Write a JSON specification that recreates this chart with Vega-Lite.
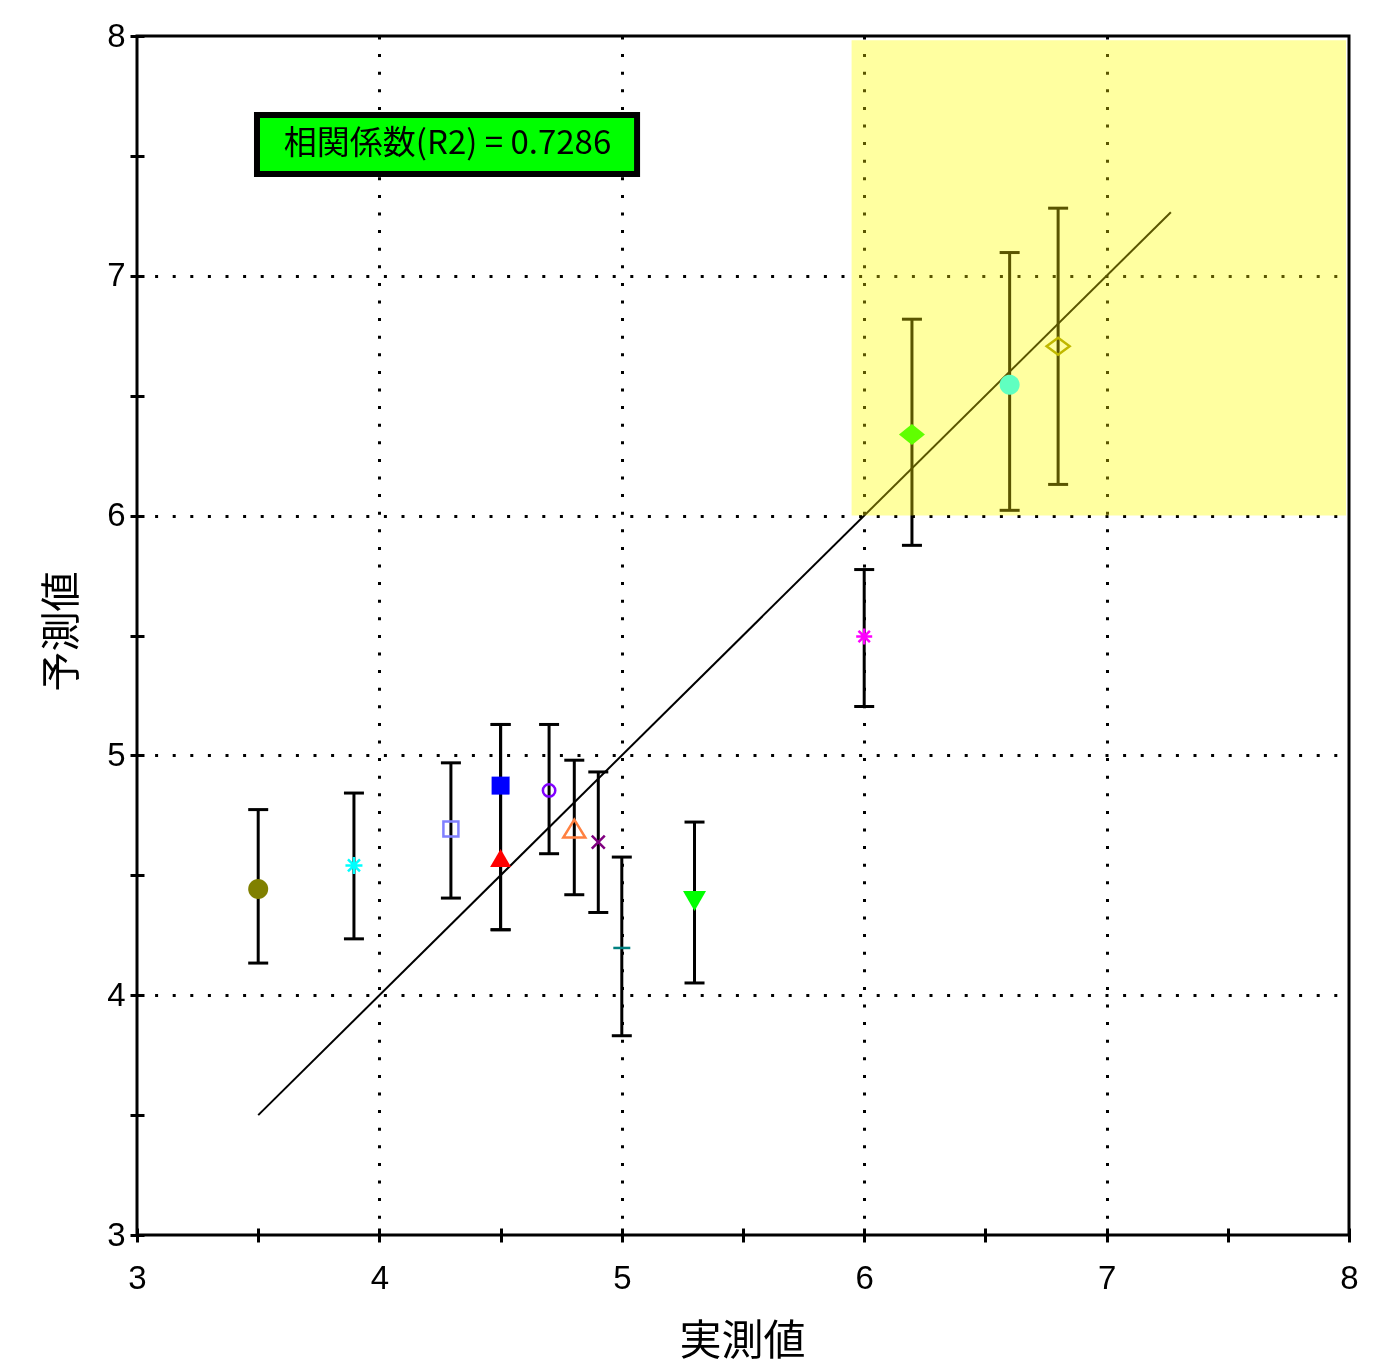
{
  "$schema": "https://vega.github.io/schema/vega-lite/v6.json",
  "width": 1212,
  "height": 1199,
  "autosize": {"type": "none"},
  "padding": {"left": 137, "top": 36, "right": 33, "bottom": 133},
  "background": "white",
  "config": {"view": {"stroke": "#000", "strokeWidth": 3}},
  "datasets": {
    "region": [{"x1": 5.948, "x2": 7.988, "y1": 6.0, "y2": 7.982}],
    "box": [{"x1": 3.495, "x2": 5.063, "y1": 7.425, "y2": 7.671, "tx": 4.281, "ty": 7.548, "label": "相関係数(R2) = 0.7286"}],
    "fit": [{"x": 3.5, "y": 3.5}, {"x": 7.265, "y": 7.265}],
    "pts": [
      {"name": "s1", "x": 3.5, "y": 4.443, "lo": 4.134, "hi": 4.774},
      {"name": "s2", "x": 3.895, "y": 4.541, "lo": 4.235, "hi": 4.843},
      {"name": "s3", "x": 4.295, "y": 4.693, "lo": 4.405, "hi": 4.969},
      {"name": "s4", "x": 4.5, "y": 4.874, "lo": 4.273, "hi": 5.129},
      {"name": "s5", "x": 4.5, "y": 4.572, "lo": 4.273, "hi": 5.129},
      {"name": "s6", "x": 4.7, "y": 4.854, "lo": 4.59, "hi": 5.129},
      {"name": "s7", "x": 4.804, "y": 4.695, "lo": 4.419, "hi": 4.98},
      {"name": "s8", "x": 4.903, "y": 4.638, "lo": 4.345, "hi": 4.931},
      {"name": "s9", "x": 5.0, "y": 4.197, "lo": 3.831, "hi": 4.576},
      {"name": "s10", "x": 5.3, "y": 4.393, "lo": 4.051, "hi": 4.722},
      {"name": "s11", "x": 6.0, "y": 5.496, "lo": 5.204, "hi": 5.775},
      {"name": "s12", "x": 6.197, "y": 6.338, "lo": 5.876, "hi": 6.819},
      {"name": "s13", "x": 6.6, "y": 6.546, "lo": 6.022, "hi": 7.097},
      {"name": "s14", "x": 6.8, "y": 6.706, "lo": 6.13, "hi": 7.282}
    ]
  },
  "layer": [
    {
      "data": {"name": "region"},
      "mark": {"type": "rect", "color": "#FFFFA0", "blend": "multiply"},
      "encoding": {
        "x": {
          "field": "x1", "type": "quantitative", "title": "実測値",
          "scale": {"domain": [3, 8], "nice": false, "zero": false},
          "axis": {
            "values": [3, 3.5, 4, 4.5, 5, 5.5, 6, 6.5, 7, 7.5, 8],
            "domain": false, "offset": -7, "tickSize": 14, "tickWidth": 3, "tickColor": "#000",
            "grid": true, "gridColor": "#000", "gridWidth": 3, "gridDash": [3, 14.6],
            "gridOpacity": {"condition": {"test": "datum.value % 1 !== 0 || datum.value === 3 || datum.value === 8", "value": 0}, "value": 1},
            "labelExpr": "datum.value % 1 === 0 ? format(datum.value, 'd') : ''",
            "labelFont": "Liberation Sans", "labelFontSize": 33, "labelColor": "#000", "labelPadding": 20,
            "labelFlush": false, "labelOverlap": false,
            "titleFont": "Noto Sans CJK JP", "titleFontSize": 42, "titleFontWeight": "normal", "titleColor": "#000",
            "titleX": 605, "titleY": 113, "titleBaseline": "middle", "titleAlign": "center"
          }
        },
        "x2": {"field": "x2"},
        "y": {
          "field": "y1", "type": "quantitative", "title": "予測値",
          "scale": {"domain": [3, 8], "nice": false, "zero": false},
          "axis": {
            "values": [3, 3.5, 4, 4.5, 5, 5.5, 6, 6.5, 7, 7.5, 8],
            "domain": false, "offset": -7, "tickSize": 14, "tickWidth": 3, "tickColor": "#000",
            "grid": true, "gridColor": "#000", "gridWidth": 3, "gridDash": [3, 14.6],
            "gridOpacity": {"condition": {"test": "datum.value % 1 !== 0 || datum.value === 3 || datum.value === 8", "value": 0}, "value": 1},
            "labelExpr": "datum.value % 1 === 0 ? format(datum.value, 'd') : ''",
            "labelFont": "Liberation Sans", "labelFontSize": 33, "labelColor": "#000", "labelPadding": 5,
            "labelFlush": false, "labelOverlap": false,
            "titleFont": "Noto Sans CJK JP", "titleFontSize": 40, "titleFontWeight": "normal", "titleColor": "#000",
            "titleX": -82, "titleY": 595, "titleBaseline": "middle", "titleAlign": "center", "titleAngle": -90
          }
        },
        "y2": {"field": "y2"}
      }
    },
    {
      "data": {"name": "fit"},
      "mark": {"type": "line", "color": "#000", "strokeWidth": 2},
      "encoding": {
        "x": {"field": "x", "type": "quantitative", "title": "実測値", "scale": {"domain": [3, 8], "nice": false, "zero": false}},
        "y": {"field": "y", "type": "quantitative", "title": "予測値", "scale": {"domain": [3, 8], "nice": false, "zero": false}}
      }
    },
    {
      "data": {"name": "pts"},
      "mark": {"type": "rule", "color": "#000", "strokeWidth": 3},
      "encoding": {
        "x": {"field": "x", "type": "quantitative", "title": "実測値", "scale": {"domain": [3, 8], "nice": false, "zero": false}},
        "y": {"field": "lo", "type": "quantitative", "title": "予測値", "scale": {"domain": [3, 8], "nice": false, "zero": false}},
        "y2": {"field": "hi"}
      }
    },
    {
      "data": {"name": "pts"},
      "mark": {"type": "tick", "orient": "horizontal", "size": 20, "thickness": 3, "color": "#000", "opacity": 1},
      "encoding": {
        "x": {"field": "x", "type": "quantitative", "title": "実測値", "scale": {"domain": [3, 8], "nice": false, "zero": false}},
        "y": {"field": "lo", "type": "quantitative", "title": "予測値", "scale": {"domain": [3, 8], "nice": false, "zero": false}}
      }
    },
    {
      "data": {"name": "pts"},
      "mark": {"type": "tick", "orient": "horizontal", "size": 20, "thickness": 3, "color": "#000", "opacity": 1},
      "encoding": {
        "x": {"field": "x", "type": "quantitative", "title": "実測値", "scale": {"domain": [3, 8], "nice": false, "zero": false}},
        "y": {"field": "hi", "type": "quantitative", "title": "予測値", "scale": {"domain": [3, 8], "nice": false, "zero": false}}
      }
    },
    {
      "data": {"name": "region"},
      "mark": {"type": "rect", "color": "#5a5500", "blend": "screen"},
      "encoding": {
        "x": {"field": "x1", "type": "quantitative", "title": "実測値", "scale": {"domain": [3, 8], "nice": false, "zero": false}},
        "x2": {"field": "x2"},
        "y": {"field": "y1", "type": "quantitative", "title": "予測値", "scale": {"domain": [3, 8], "nice": false, "zero": false}},
        "y2": {"field": "y2"}
      }
    },
    {
      "data": {"name": "pts"},
      "transform": [{"filter": {"field": "name", "oneOf": ["s1", "s4", "s5", "s10", "s12", "s13"]}}],
      "mark": {"type": "point", "filled": true, "size": 400, "opacity": 1, "strokeWidth": 0},
      "encoding": {
        "x": {"field": "x", "type": "quantitative", "title": "実測値", "scale": {"domain": [3, 8], "nice": false, "zero": false}},
        "y": {"field": "y", "type": "quantitative", "title": "予測値", "scale": {"domain": [3, 8], "nice": false, "zero": false}},
        "shape": {
          "field": "name", "type": "nominal", "legend": null,
          "scale": {
            "domain": ["s1", "s2", "s3", "s4", "s5", "s6", "s7", "s8", "s9", "s10", "s11", "s12", "s13", "s14"],
            "range": [
              "M-1,0A1,1,0,1,0,1,0A1,1,0,1,0,-1,0Z",
              "M-0.85,0L0.85,0M0,-0.85L0,0.85M-0.6,-0.6L0.6,0.6M-0.6,0.6L0.6,-0.6",
              "M-0.75,-0.75L0.75,-0.75L0.75,0.75L-0.75,0.75Z",
              "M-0.9,-0.9L0.9,-0.9L0.9,0.9L-0.9,0.9Z",
              "M0,-0.9L1.05,0.9L-1.05,0.9Z",
              "M-0.62,0A0.62,0.62,0,1,0,0.62,0A0.62,0.62,0,1,0,-0.62,0Z",
              "M0,-0.9L1.1,0.9L-1.1,0.9Z",
              "M-0.65,-0.65L0.65,0.65M-0.65,0.65L0.65,-0.65",
              "M-0.85,0L0.85,0",
              "M0,1L1.15,-1L-1.15,-1Z",
              "M-0.8,0L0.8,0M0,-0.8L0,0.8M-0.57,-0.57L0.57,0.57M-0.57,0.57L0.57,-0.57",
              "M-1.3,0L0,-1.05L1.3,0L0,1.05Z",
              "M-1,0A1,1,0,1,0,1,0A1,1,0,1,0,-1,0Z",
              "M-1.15,0L0,-0.85L1.15,0L0,0.85Z"
            ]
          }
        },
        "color": {
          "field": "name", "type": "nominal", "legend": null,
          "scale": {
            "domain": ["s1", "s2", "s3", "s4", "s5", "s6", "s7", "s8", "s9", "s10", "s11", "s12", "s13", "s14"],
            "range": ["#808000", "#00FFFF", "#8080FF", "#0000FF", "#FF0000", "#8000FF", "#FF8040", "#800080", "#008080", "#00FF00", "#FF00FF", "#60FF00", "#60FFC0", "#C0B800"]
          }
        }
      }
    },
    {
      "data": {"name": "pts"},
      "transform": [{"filter": {"field": "name", "oneOf": ["s2", "s3", "s6", "s7", "s8", "s9", "s11", "s14"]}}],
      "mark": {"type": "point", "filled": false, "size": 400, "opacity": 1, "strokeWidth": 2.5},
      "encoding": {
        "x": {"field": "x", "type": "quantitative", "title": "実測値", "scale": {"domain": [3, 8], "nice": false, "zero": false}},
        "y": {"field": "y", "type": "quantitative", "title": "予測値", "scale": {"domain": [3, 8], "nice": false, "zero": false}},
        "shape": {"field": "name", "type": "nominal", "legend": null},
        "color": {"field": "name", "type": "nominal", "legend": null}
      }
    },
    {
      "data": {"name": "box"},
      "mark": {"type": "rect", "fill": "#00FF00", "stroke": "#000", "strokeWidth": 6},
      "encoding": {
        "x": {"field": "x1", "type": "quantitative", "title": "実測値", "scale": {"domain": [3, 8], "nice": false, "zero": false}},
        "x2": {"field": "x2"},
        "y": {"field": "y1", "type": "quantitative", "title": "予測値", "scale": {"domain": [3, 8], "nice": false, "zero": false}},
        "y2": {"field": "y2"}
      }
    },
    {
      "data": {"name": "box"},
      "mark": {"type": "text", "font": "Noto Sans CJK JP", "fontSize": 33, "color": "#000", "align": "center", "baseline": "middle"},
      "encoding": {
        "x": {"field": "tx", "type": "quantitative", "title": "実測値", "scale": {"domain": [3, 8], "nice": false, "zero": false}},
        "y": {"field": "ty", "type": "quantitative", "title": "予測値", "scale": {"domain": [3, 8], "nice": false, "zero": false}},
        "text": {"field": "label"}
      }
    }
  ]
}
